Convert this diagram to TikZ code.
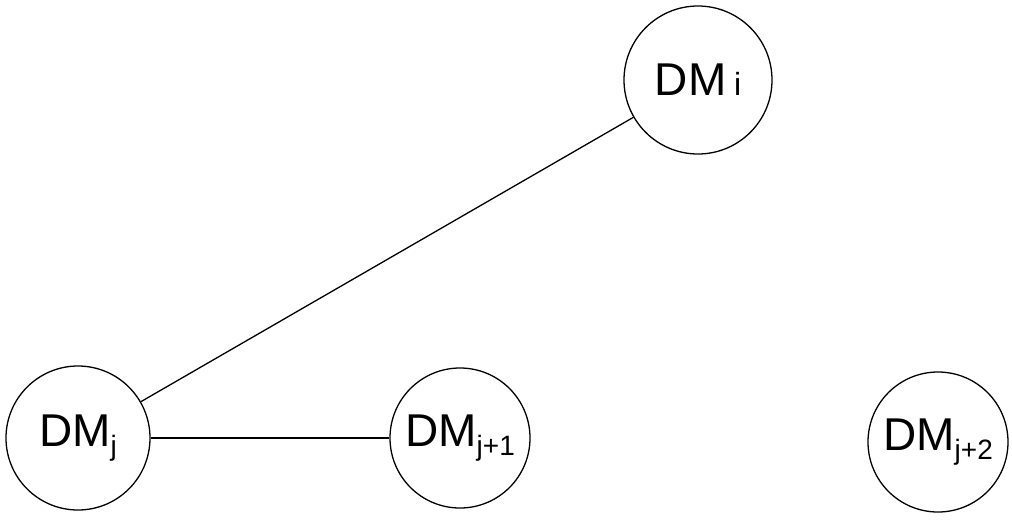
\documentclass[tikz,border=0pt]{standalone}
\usepackage{fontspec}
\setmainfont{Liberation Sans}
\usepackage{tikz}
\newcommand{\dmlabel}[1]{DM\raisebox{-0.35ex}{\fontsize{28}{28}\selectfont #1}}

\begin{document}
\begin{tikzpicture}[x=1pt, y=-1pt]
			%%%%% START %%%%%
			
			\tikzset{dmnode/.style={draw, circle, line width=1.3pt, minimum size=144pt, inner sep=0pt, font=\fontsize{46}{46}\selectfont}}
			
			\useasboundingbox (0, 0) rectangle (1012, 523);
			
			\node[dmnode, minimum size=148pt] (dmi) at (698, 80) {DM\,{\fontsize{32}{32}\selectfont i}};
			\node[dmnode] (dmj) at (78, 438) {\dmlabel{j}};
			\node[dmnode, minimum size=140pt] (dmjone) at (460, 438) {\dmlabel{j+1}};
			\node[dmnode, minimum size=140pt] (dmjtwo) at (938, 442) {\dmlabel{j+2}};
			
			\draw[line width=1.3pt] (dmj) -- (dmi);
			\draw[line width=1.3pt] (dmj) -- (dmjone);
			
			%%%%% END %%%%%
\end{tikzpicture}
\end{document}
